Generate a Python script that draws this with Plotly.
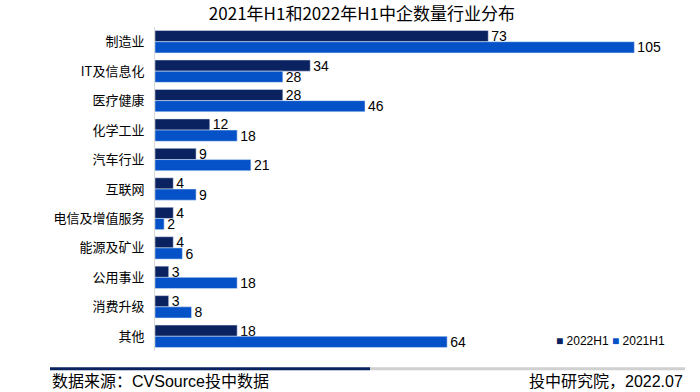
import plotly.graph_objects as go

categories = ["制造业", "IT及信息化", "医疗健康", "化学工业", "汽车行业", "互联网",
              "电信及增值服务", "能源及矿业", "公用事业", "消费升级", "其他"]
v2022 = [73, 34, 28, 12, 9, 4, 4, 4, 3, 3, 18]
v2021 = [105, 28, 46, 18, 21, 9, 2, 6, 18, 8, 64]
series_names = ["2022H1", "2021H1"]
colors = ["#0b2260", "#0552c8"]

FONT = "Liberation Sans, Noto Sans CJK SC, sans-serif"
CJK = "Noto Sans CJK SC, sans-serif"

fig = go.Figure()
for name, vals, col in zip(series_names, [v2022, v2021], colors):
    fig.add_trace(go.Bar(y=categories, x=vals, orientation="h", name=name,
                         marker_color=col, text=vals, textposition="outside",
                         constraintext="none", hoverinfo="skip",
                         textfont=dict(family=FONT, size=14, color="#000"), cliponaxis=False))

fig.update_layout(
    width=700, height=392,
    margin=dict(l=155, r=20, t=27, b=41),
    paper_bgcolor="white", plot_bgcolor="white",
    barmode="group", bargap=0.24, bargroupgap=0,
    font=dict(family=FONT, size=12, color="#000"),
    title=dict(text="2021年H1和2022年H1中企数量行业分布", x=0.517, xanchor="center",
               y=0.963, yanchor="middle", font=dict(family=CJK, size=17, color="#000")),
    xaxis=dict(range=[0, 115], visible=False),
    yaxis=dict(autorange="reversed", showline=True, linecolor="#d9d9d9", linewidth=1,
               ticks="", ticklabelstandoff=7, tickfont=dict(family=CJK, size=13)),
    showlegend=False,
)

# legend drawn as text
legend_text = " ".join(f"<span style='color:{c}'>■</span> {n}" for n, c in zip(series_names, colors))
fig.add_annotation(text=legend_text, xref="paper", yref="paper", x=0.975, xanchor="right",
                   y=0.03, yanchor="middle", showarrow=False,
                   font=dict(family=FONT, size=12, color="#000"))

# footer lines
fig.add_shape(type="line", xref="paper", yref="paper", x0=-0.2, x1=0.41, y0=-0.055, y1=-0.055,
              line=dict(color="#0b2260", width=3))
fig.add_shape(type="line", xref="paper", yref="paper", x0=0.41, x1=1.01, y0=-0.055, y1=-0.055,
              line=dict(color="#d0d0d0", width=3))

fig.add_annotation(text="数据来源：CVSource投中数据", xref="paper", yref="paper",
                   x=-0.2, xanchor="left", y=-0.093, yanchor="middle", showarrow=False,
                   font=dict(family=FONT, size=16, color="#000"))
fig.add_annotation(text="投中研究院，2022.07", xref="paper", yref="paper",
                   x=1.01, xanchor="right", y=-0.093, yanchor="middle", showarrow=False,
                   font=dict(family=FONT, size=16, color="#000"))

fig.write_html("out.html", config={"displayModeBar": False},
               post_script="document.body.style.margin='0';")
